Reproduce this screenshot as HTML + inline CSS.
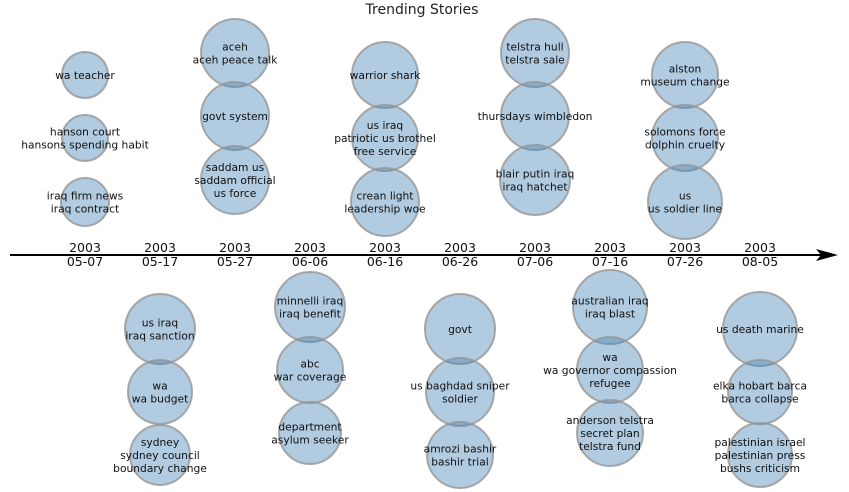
<!DOCTYPE html>
<html><head><meta charset="utf-8"><style>
body{margin:0;background:#fff;}
svg{display:block;font-family:"DejaVu Sans","Liberation Sans",sans-serif;}
</style></head><body>
<svg id="chart" width="849" height="492">
<text x="422" y="14" text-anchor="middle" font-size="14" fill="#222">Trending Stories</text>
<line x1="10" y1="255" x2="822" y2="255" stroke="#000" stroke-width="2"/>
<polygon points="816,249 838,255 816,261 821,255" fill="#000"/>
</svg>
<script>
const dates=["05-07","05-17","05-27","06-06","06-16","06-26","07-06","07-16","07-26","08-05"];
const years=["2003","2003","2003","2003","2003","2003","2003","2003","2003","2003"];
const labels=[["wa teacher"],["hanson court","hansons spending habit"],["iraq firm news","iraq contract"],
["us iraq","iraq sanction"],["wa","wa budget"],["sydney","sydney council","boundary change"],
["aceh","aceh peace talk"],["govt system"],["saddam us","saddam official","us force"],
["minnelli iraq","iraq benefit"],["abc","war coverage"],["department","asylum seeker"],
["warrior shark"],["us iraq","patriotic us brothel","free service"],["crean light","leadership woe"],
["govt"],["us baghdad sniper","soldier"],["amrozi bashir","bashir trial"],
["telstra hull","telstra sale"],["thursdays wimbledon"],["blair putin iraq","iraq hatchet"],
["australian iraq","iraq blast"],["wa","wa governor compassion","refugee"],["anderson telstra","secret plan","telstra fund"],
["alston","museum change"],["solomons force","dolphin cruelty"],["us","us soldier line"],
["us death marine"],["elka hobart barca","barca collapse"],["palestinian israel","palestinian press","bushs criticism"]];
const dateIdx=[0,0,0,1,1,1,2,2,2,3,3,3,4,4,4,5,5,5,6,6,6,7,7,7,8,8,8,9,9,9];
const slot=[0,1,2,0,1,2,0,1,2,0,1,2,0,1,2,0,1,2,0,1,2,0,1,2,0,1,2,0,1,2];
const sizes=[23,23,24,35,32,30,34,34,34,35,33,31,33,33,34,35,34,33,34,34,35,37,33,33,33,33,37,37,32,32];
const NS="http://www.w3.org/2000/svg";
const svg=document.getElementById('chart');
const x0=85,dx=75,axisY=255;
function xs(i){return x0+i*dx;}
function ys(d,s){const up=d%2===0;
  if(up){const base=[75,138,202][s];return (d%4===0)?base:base-22;}
  const base=[329,392,455][s];return (d%4===1)?base:base-22;}
dates.forEach((d,i)=>{
  const t=document.createElementNS(NS,'text');
  t.setAttribute('x',xs(i));t.setAttribute('y',axisY-3);t.setAttribute('text-anchor','middle');t.setAttribute('font-size','12.5');t.setAttribute('fill','#111');
  
  
  const a=document.createElementNS(NS,'tspan');a.setAttribute('x',xs(i));a.textContent=years[i];t.appendChild(a);
  const b=document.createElementNS(NS,'tspan');b.setAttribute('x',xs(i));b.setAttribute('dy','14');b.textContent=d;t.appendChild(b);
  svg.appendChild(t);
});
labels.forEach((lab,k)=>{
  const cx=xs(dateIdx[k]),cy=ys(dateIdx[k],slot[k]);
  const c=document.createElementNS(NS,'circle');
  c.setAttribute('cx',cx);c.setAttribute('cy',cy);c.setAttribute('r',sizes[k]);
  c.setAttribute('fill','rgba(70,130,180,0.42)');c.setAttribute('stroke','rgba(150,150,150,0.8)');c.setAttribute('stroke-width','2');
  
  
  svg.appendChild(c);
  const t=document.createElementNS(NS,'text');
  t.setAttribute('text-anchor','middle');t.setAttribute('font-size','10.7');t.setAttribute('fill','#111');
  
  
  const n=lab.length,lh=12.8,start=cy-(n-1)*lh/2+4;
  lab.forEach((s,j)=>{const ts=document.createElementNS(NS,'tspan');ts.setAttribute('x',cx);ts.setAttribute('y',start+j*lh);ts.textContent=s;t.appendChild(ts);});
  svg.appendChild(t);
});
</script>
</body></html>
